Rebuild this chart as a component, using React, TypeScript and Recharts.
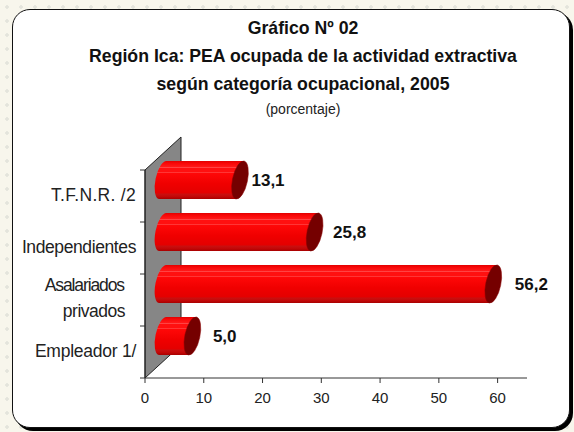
import React from "react";
import { BarChart, Bar, XAxis, YAxis, LabelList, usePlotArea } from "recharts";

const categories = ["T.F.N.R. /2", "Independientes", "Asalariados\nprivados", "Empleador 1/"];
const values = [13.1, 25.8, 56.2, 5.0];
const xTicks = [0, 10, 20, 30, 40, 50, 60];
const titleLines = [
  "Gráfico Nº 02",
  "Región Ica: PEA ocupada de la actividad extractiva",
  "según categoría ocupacional, 2005",
];
const subtitle = "(porcentaje)";

const data = categories.map((name, i) => ({ name, value: values[i] }));

// fake 3d: bars sit on a plane pushed back from the axis
const DEPTH_X = 18;
const DEPTH_Y = -16;
const WALL_X = 36;
const WALL_Y = -33;
const labelGaps = [3, 10, 13, 12];
const categorySpacing = [0.3, -0.4, 0, -0.25];
const FONT = "'Liberation Sans', Arial, sans-serif";

function BackWall() {
  const plot = usePlotArea();
  if (!plot) return null;
  const { x, y, height } = plot;
  const bottom = y + height;
  const band = height / categories.length;
  return (
    <g>
      <polygon
        points={`${x},${y} ${x + WALL_X},${y + WALL_Y} ${x + WALL_X},${bottom + WALL_Y} ${x},${bottom}`}
        fill="#868686"
        stroke="#222"
        strokeWidth={1}
      />
      {[0, 1, 2, 3, 4].map((i) => (
        <line key={i} x1={x - 5} x2={x} y1={y + band * i} y2={y + band * i} stroke="#333" />
      ))}
    </g>
  );
}

function Cylinder(props: any) {
  const { x, y, width, height } = props;
  const x0 = x + DEPTH_X;
  const x1 = x + width + DEPTH_X;
  const top = y + DEPTH_Y;
  const bottom = top + height;
  const cy = (top + bottom) / 2;
  const lean = 4;
  const rx = 7.5;
  const ry = height / 2 + 0.4;
  return (
    <g>
      <path
        d={`M${x0 + lean},${top} L${x1 + lean},${top} L${x1 - lean},${bottom} L${x0 - lean},${bottom} A${rx} ${ry} 12 0 1 ${x0 + lean},${top} Z`}
        fill="url(#tube)"
      />
      <ellipse cx={x1} cy={cy} rx={rx} ry={ry} transform={`rotate(12 ${x1} ${cy})`} fill="#750000" stroke="#8a0000" strokeWidth={0.5} />
    </g>
  );
}

function ValueLabel(props: any) {
  const { x, y, width, height, value, index } = props;
  return (
    <text
      x={x + width + DEPTH_X + 8.5 + labelGaps[index]}
      y={y + height / 2 + DEPTH_Y}
      dy={6}
      fontFamily={FONT}
      fontSize={17}
      fontWeight="bold"
      fill="#111"
    >
      {Number(value).toFixed(1).replace(".", ",")}
    </text>
  );
}

function CategoryTick(props: any) {
  const { x, y, payload, index } = props;
  const lines = String(payload.value).split("\n");
  if (lines.length > 1) {
    return (
      <text textAnchor="end" fontFamily={FONT} fontSize={17.5} fill="#222">
        <tspan x={x - 13} y={y - 9} letterSpacing={-1.1}>{lines[0]}</tspan>
        <tspan x={x - 12} y={y + 17} letterSpacing={-0.5}>{lines[1]}</tspan>
      </text>
    );
  }
  return (
    <text x={x - 1} y={y + 5} textAnchor="end" fontFamily={FONT} fontSize={17.5} letterSpacing={categorySpacing[index]} fill="#222">
      {lines[0]}
    </text>
  );
}

export default function App() {
  return (
    <div
      style={{
        position: "absolute",
        left: 0,
        top: 0,
        width: 574,
        height: 432,
        overflow: "hidden",
        backgroundColor: "#f8f6ec",
        backgroundImage: "radial-gradient(#e4e4dc 1.5px, transparent 2px)",
        backgroundSize: "14px 14px",
      }}
    >
      <div
        style={{
          position: "absolute",
          left: 12,
          top: 9,
          width: 556,
          height: 417,
          background: "#fff",
          border: "1.5px solid #111",
          borderRadius: 18,
          boxShadow: "3px 3px 0 #000",
        }}
      />
      {titleLines.map((line, i) => (
        <div
          key={line}
          style={{
            position: "absolute",
            left: 13,
            width: 580,
            top: 18 + i * 28,
            textAlign: "center",
            fontFamily: FONT,
            fontSize: 17.7,
            lineHeight: "20px",
            fontWeight: "bold",
            color: "#111",
          }}
        >
          {line}
        </div>
      ))}
      <div
        style={{
          position: "absolute",
          left: 13,
          width: 580,
          top: 100,
          textAlign: "center",
          fontFamily: FONT,
          fontSize: 14,
          lineHeight: "18px",
          color: "#222",
        }}
      >
        {subtitle}
      </div>
      <div style={{ position: "absolute", left: 0, top: 0 }}>
        <BarChart
          width={574}
          height={432}
          data={data}
          layout="vertical"
          barSize={38}
          margin={{ top: 170, right: 47, bottom: 0, left: 0 }}
        >
          <defs>
            <linearGradient id="tube" x1="0" y1="0" x2="0" y2="1">
              <stop offset="0" stopColor="#e00000" />
              <stop offset="0.06" stopColor="#f80808" />
              <stop offset="0.15" stopColor="#ff1818" />
              <stop offset="0.17" stopColor="#ff4a4a" />
              <stop offset="0.19" stopColor="#ff1010" />
              <stop offset="0.28" stopColor="#ff1010" />
              <stop offset="0.3" stopColor="#ff4040" />
              <stop offset="0.32" stopColor="#ff0808" />
              <stop offset="0.6" stopColor="#f00000" />
              <stop offset="0.84" stopColor="#e40000" />
              <stop offset="0.87" stopColor="#c81010" />
              <stop offset="0.93" stopColor="#c40808" />
              <stop offset="1" stopColor="#a80000" />
            </linearGradient>
          </defs>
          <BackWall />
          <XAxis
            type="number"
            domain={[0, 65]}
            ticks={xTicks}
            height={54}
            tickSize={5}
            tickMargin={9}
            stroke="#333"
            tick={{ fill: "#222", fontSize: 15, fontFamily: FONT }}
          />
          <YAxis
            type="category"
            dataKey="name"
            width={145}
            stroke="#222"
            tickLine={false}
            tick={<CategoryTick />}
          />
          <Bar dataKey="value" shape={<Cylinder />} isAnimationActive={false}>
            <LabelList dataKey="value" content={<ValueLabel />} />
          </Bar>
        </BarChart>
      </div>
    </div>
  );
}
